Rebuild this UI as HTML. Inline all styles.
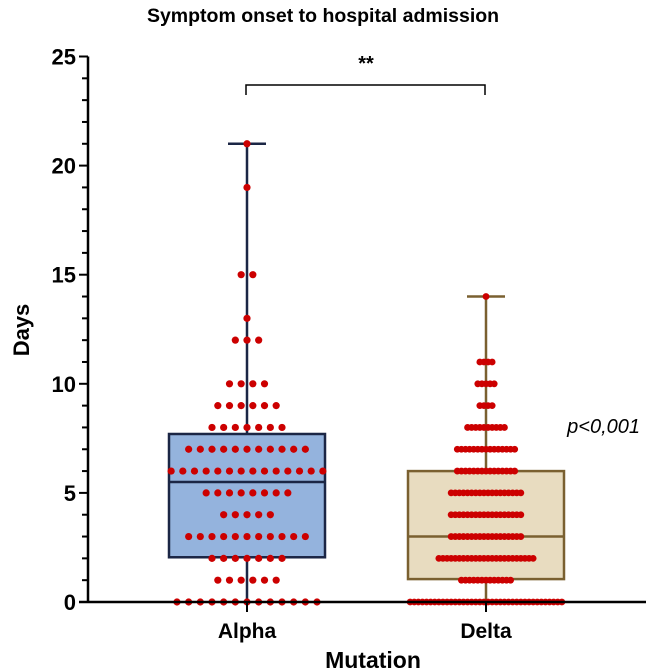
<!DOCTYPE html>
<html><head><meta charset="utf-8"><style>
body{margin:0;background:#fff}
svg{display:block;font-family:"Liberation Sans",Arial,sans-serif}
</style></head><body>
<svg id="chart" width="646" height="672">
<text x="323" y="22" text-anchor="middle" font-size="19.5" font-weight="bold">Symptom onset to hospital admission</text>
<text transform="translate(29,330) rotate(-90)" text-anchor="middle" font-size="22" font-weight="bold">Days</text>
<text x="373" y="668" text-anchor="middle" font-size="23" font-weight="bold">Mutation</text>
<text x="640" y="433" text-anchor="end" font-size="20" font-style="italic">p&lt;0,001</text>
<text x="366" y="70" text-anchor="middle" font-size="20" font-weight="bold">**</text>
<path d="M246,95 V85 H485 V95" fill="none" stroke="#000" stroke-width="1.5"/>
<g id="plot"></g>
</svg>
<script>
const categories=["Alpha","Delta"];
const yTicks=[0,5,10,15,20,25];
const alphaValues=[0,1,2,3,4,5,6,7,8,9,10,12,13,15,19,21];
const alphaCounts=[13,6,7,11,5,8,14,11,7,6,4,3,1,2,1,1];
const deltaValues=[0,1,2,3,4,5,6,7,8,9,10,11,14];
const deltaCounts=[38,13,24,18,18,18,15,15,10,4,5,4,1];
const alphaBox=[0,2.05,5.5,7.7,21];
const deltaBox=[0,1.05,3,6,14];

const NS="http://www.w3.org/2000/svg";
const g=document.getElementById('plot');
const X0=88,X1=646,Y0=602,Y25=56.5;
const y=v=>Y0-(Y0-Y25)*v/25;
const xc=[247,486];
function el(t,a,p){const e=document.createElementNS(NS,t);for(const k in a)e.setAttribute(k,a[k]);(p||g).appendChild(e);return e;}

const boxes=[alphaBox,deltaBox];
const fills=["#94b3dd","#e8dcc0"],strokes=["#1b2645","#7a6030"];
boxes.forEach((b,i)=>{
  const cx=xc[i],hw=78;
  const w=el('line',{x1:cx,x2:cx,y1:y(b[0]),y2:y(b[4]),stroke:strokes[i],'stroke-width':2.5});
  
  
  const cap=el('line',{x1:cx-19,x2:cx+19,y1:y(b[4]),y2:y(b[4]),stroke:strokes[i],'stroke-width':2.5});
  
  
  const r=el('rect',{x:cx-hw,y:y(b[3]),width:hw*2,height:y(b[1])-y(b[3]),fill:fills[i],stroke:strokes[i],'stroke-width':2.5});
  
  
  const m=el('line',{x1:cx-hw,x2:cx+hw,y1:y(b[2]),y2:y(b[2]),stroke:strokes[i],'stroke-width':2.5});
  
  
});

function dots(vals,counts,cx,sp,r,name){
  vals.forEach((v,j)=>{
    const n=counts[j];
    for(let k=0;k<n;k++){
      const d=el('circle',{cx:cx+(k-(n-1)/2)*sp,cy:y(v),r:r,fill:"#cc0000"});
      
      
    }
  });
}
dots(alphaValues,alphaCounts,xc[0],11.67,3.6,'alpha');
dots(deltaValues,deltaCounts,xc[1],4.1,3.4,'delta');

const ya=el('line',{x1:X0,x2:X0,y1:Y25,y2:Y0+1,stroke:"#000",'stroke-width':2.5});


const xa=el('line',{x1:X0-9,x2:X1,y1:Y0,y2:Y0,stroke:"#000",'stroke-width':2.5});


for(let v=0;v<=25;v++){
  const major=v%5===0;
  const t=el('line',{x1:X0-(major?9:6),x2:X0,y1:y(v),y2:y(v),stroke:"#000",'stroke-width':2});
  
  
}
yTicks.forEach(v=>{
  const t=el('text',{x:X0-12,y:y(v)+8,'text-anchor':'end','font-size':22,'font-weight':'bold'});
  t.textContent=v;
  
  
});
categories.forEach((c,i)=>{
  const t=el('line',{x1:xc[i],x2:xc[i],y1:Y0,y2:Y0+10,stroke:"#000",'stroke-width':2});
  
  
  const l=el('text',{x:xc[i],y:638,'text-anchor':'middle','font-size':21,'font-weight':'bold'});
  l.textContent=c;
  
  
});
</script>
</body></html>
